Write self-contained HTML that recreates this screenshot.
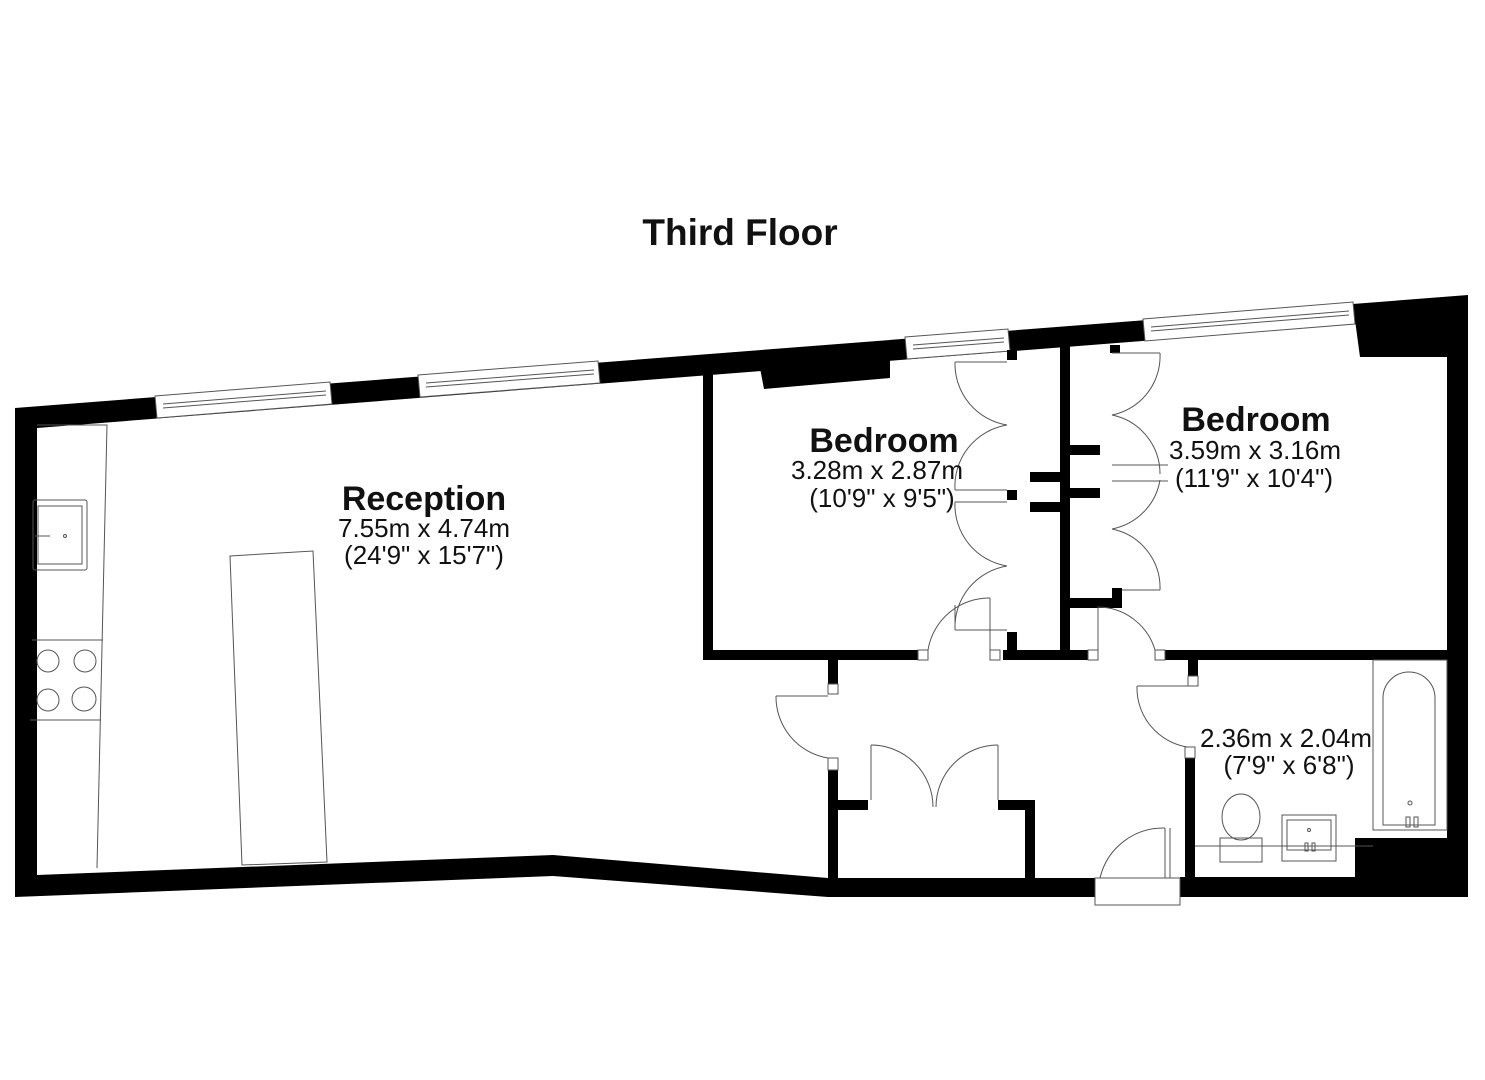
<!DOCTYPE html>
<html><head><meta charset="utf-8"><style>
html,body{margin:0;padding:0;background:#fff;}
svg{display:block;}
text{font-family:"Liberation Sans",Arial,sans-serif;fill:#111;}
</style></head><body>
<svg width="1485" height="1080" viewBox="0 0 1485 1080" xmlns="http://www.w3.org/2000/svg">
<rect width="1485" height="1080" fill="#fff"/>
<text x="740" y="245" font-size="37" font-weight="bold" text-anchor="middle">Third Floor</text>

<!-- outer walls -->
<path fill="#000" fill-rule="evenodd" d="M15,408 L1468,295 L1468,897 L1180,897 L1180,877 L1447,877 L1447,317 L37,428 L37,875 L553,855 L828,878 L1095,878 L1095,897 L828,897 L553,876 L15,897 Z"/>
<polygon fill="#000" points="1355,320 1447,312 1447,357 1360,357"/>
<polygon fill="#000" points="1355,838 1447,838 1447,880 1355,880"/>
<!-- windows -->
<g fill="#fff" stroke="#555" stroke-width="1">
<polygon points="155,396 330,382 332,404 157,418"/>
<polygon points="418,375 598,361 600,383 420,397"/>
<polygon points="905,337 1008,329 1010,351 907,359"/>
<polygon points="1143,319 1353,302 1355,324 1145,341"/>
</g>
<g stroke="#555" stroke-width="1" fill="none">
<line x1="163" y1="404" x2="326" y2="391"/><line x1="163" y1="408" x2="326" y2="395"/>
<line x1="426" y1="383" x2="594" y2="370"/><line x1="426" y1="387" x2="594" y2="374"/>
<line x1="913" y1="345" x2="1004" y2="338"/><line x1="913" y1="349" x2="1004" y2="342"/>
<line x1="1151" y1="327" x2="1349" y2="311"/><line x1="1151" y1="331" x2="1349" y2="315"/>
</g>

<!-- interior walls -->
<g fill="#000">
<rect x="703" y="372" width="10" height="288"/>
<rect x="703" y="650" width="215" height="10"/>
<rect x="1003" y="650" width="85" height="10"/>
<rect x="1165" y="650" width="282" height="10"/>
<rect x="1060" y="345" width="10" height="310"/>
<polygon points="760,368 890,358 890,378 764,389"/>
<rect x="1007" y="350" width="10" height="10"/>
<rect x="1030" y="472" width="30" height="10"/>
<rect x="1030" y="502" width="30" height="10"/>
<rect x="1007" y="490" width="10" height="10"/>
<rect x="1007" y="632" width="10" height="22"/>
<rect x="1070" y="445" width="30" height="10"/>
<rect x="1070" y="488" width="30" height="10"/>
<rect x="1070" y="598" width="52" height="10"/>
<rect x="1112" y="588" width="10" height="20"/>
<rect x="1110" y="345" width="10" height="8"/>
<rect x="828" y="660" width="10" height="24"/>
<rect x="828" y="770" width="10" height="108"/>
<rect x="838" y="800" width="30" height="10"/>
<rect x="998" y="800" width="37" height="10"/>
<rect x="1025" y="800" width="10" height="78"/>
<rect x="1188" y="660" width="10" height="16"/>
<rect x="1185" y="758" width="10" height="120"/>
</g>
<g fill="#fff" stroke="#555" stroke-width="1">
<rect x="918" y="650" width="10" height="10"/>
<rect x="990" y="650" width="10" height="10"/>
<rect x="1088" y="650" width="10" height="10"/>
<rect x="1155" y="650" width="10" height="10"/>
<rect x="828" y="684" width="10" height="10"/>
<rect x="828" y="758" width="10" height="12"/>
<rect x="1188" y="676" width="10" height="10"/>
<rect x="1185" y="747" width="10" height="11"/>
<rect x="1095" y="878" width="85" height="27"/>
</g>

<g fill="none" stroke="#555" stroke-width="1">
<line x1="955" y1="362" x2="1007" y2="362"/>
<path d="M955,362 A62,62 0 0 0 1007,425"/>
<path d="M1007,425 A62,62 0 0 0 955,490"/>
<line x1="955" y1="490" x2="1007" y2="490"/><line x1="955" y1="502" x2="1007" y2="502"/>
<path d="M955,502 A62,62 0 0 0 1007,566"/>
<path d="M1007,566 A62,62 0 0 0 955,630"/>
<line x1="955" y1="630" x2="1007" y2="630"/>
<line x1="1112" y1="353" x2="1160" y2="353"/>
<path d="M1160,353 A60,60 0 0 1 1112,415"/>
<path d="M1112,415 A60,60 0 0 1 1160,474"/>
<line x1="1112" y1="465" x2="1168" y2="465"/><line x1="1112" y1="481" x2="1168" y2="481"/>
<path d="M1112,529 A60,60 0 0 1 1160,590"/>
<path d="M1160,480 A60,60 0 0 1 1112,529"/>
<line x1="1122" y1="590" x2="1160" y2="590"/>
<path d="M928,650 A62,62 0 0 1 990,598"/>
<line x1="990" y1="598" x2="990" y2="650"/>
<line x1="955" y1="630" x2="955" y2="605"/>
<path d="M1098,607 A60,60 0 0 1 1155,650"/>
<line x1="1098" y1="607" x2="1098" y2="650"/>
<path d="M776,696 A62,62 0 0 0 828,758"/>
<line x1="776" y1="696" x2="828" y2="696"/>
<path d="M1137,686 A60,60 0 0 0 1187,747"/>
<line x1="1137" y1="686" x2="1188" y2="686"/>
<line x1="871" y1="745" x2="871" y2="800"/>
<line x1="998" y1="745" x2="998" y2="800"/>
<path d="M871,745 A62,62 0 0 1 933,807"/>
<path d="M998,745 A62,62 0 0 0 936,807"/>
<line x1="1165" y1="828" x2="1165" y2="878"/>
<path d="M1100,878 A65,65 0 0 1 1165,828"/>
<line x1="1170" y1="828" x2="1170" y2="878"/>

<polyline points="37,425 107,425 97,868"/>
<rect x="33" y="500" width="54" height="70" rx="2"/>
<rect x="38" y="506" width="44" height="58"/>
<circle cx="65" cy="536" r="1.5"/>
<line x1="35" y1="536" x2="50" y2="536"/>
<line x1="32" y1="640" x2="103" y2="640"/>
<line x1="30" y1="720" x2="101" y2="720"/>
<circle cx="48" cy="661" r="11"/><circle cx="85" cy="661" r="11"/>
<circle cx="48" cy="700" r="11"/><circle cx="84" cy="699" r="12"/>
<polygon points="230,556 313,551 327,862 242,865"/>

<rect x="1373" y="660" width="74" height="170"/>
<path d="M1383,825 L1383,698 A26,26 0 0 1 1435,698 L1435,825 Z"/>
<circle cx="1410" cy="803" r="2"/>
<rect x="1406" y="817" width="4" height="10"/><rect x="1414" y="817" width="4" height="10"/>
<line x1="1195" y1="846" x2="1373" y2="846"/>
<rect x="1220" y="838" width="42" height="24"/>
<ellipse cx="1241" cy="817" rx="19" ry="23"/>
<rect x="1282" y="815" width="54" height="46"/>
<rect x="1287" y="820" width="44" height="30"/>
<circle cx="1309" cy="830" r="1.5"/>
<rect x="1305" y="843" width="3" height="8"/><rect x="1312" y="843" width="3" height="8"/>
</g>

<text x="424" y="510" font-size="34" font-weight="bold" text-anchor="middle">Reception</text>
<text x="424" y="537" font-size="26" text-anchor="middle">7.55m x 4.74m</text>
<text x="424" y="564" font-size="26" text-anchor="middle">(24'9" x 15'7")</text>
<text x="884" y="452" font-size="34" font-weight="bold" text-anchor="middle">Bedroom</text>
<text x="877" y="479" font-size="26" text-anchor="middle">3.28m x 2.87m</text>
<text x="882" y="507" font-size="26" text-anchor="middle">(10'9" x 9'5")</text>
<text x="1256" y="431" font-size="34" font-weight="bold" text-anchor="middle">Bedroom</text>
<text x="1255" y="459" font-size="26" text-anchor="middle">3.59m x 3.16m</text>
<text x="1254" y="487" font-size="26" text-anchor="middle">(11'9" x 10'4")</text>
<text x="1286" y="747" font-size="26" text-anchor="middle">2.36m x 2.04m</text>
<text x="1289" y="774" font-size="26" text-anchor="middle">(7'9" x 6'8")</text>
</svg>
</body></html>
